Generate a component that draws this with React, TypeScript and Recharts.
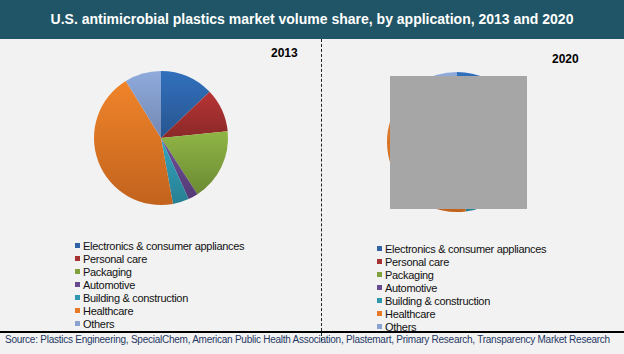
import { PieChart, Pie, Cell } from 'recharts';

const categories = [
  'Electronics & consumer appliances',
  'Personal care',
  'Packaging',
  'Automotive',
  'Building & construction',
  'Healthcare',
  'Others',
];

const share2013 = [12.9, 10.5, 17.4, 2.4, 3.9, 44.0, 8.8];
const share2020 = [14.0, 11.0, 16.0, 2.5, 4.5, 43.0, 9.0];

// top / bottom shade of each slice
const COLORS = [
  ['#3170bd', '#28558f'],
  ['#b83434', '#8a2828'],
  ['#90b545', '#6b8a33'],
  ['#70509a', '#533a75'],
  ['#34a6c0', '#277f93'],
  ['#f0842a', '#c2631d'],
  ['#8eabdc', '#7488b3'],
];
const LEGEND_COLORS = ['#2f63a6', '#a83131', '#7fa23c', '#674a90', '#2f98b0', '#e77825', '#8aa2d0'];

const data2013 = categories.map((name, i) => ({ name, value: share2013[i] }));
const data2020 = categories.map((name, i) => ({ name, value: share2020[i] }));

const font = '"Liberation Sans", Arial, sans-serif';

function Legend({ left, top }: { left: number; top: number }) {
  return (
    <div style={{ position: 'absolute', left, top, fontFamily: font, fontSize: 11, color: '#111', letterSpacing: -0.3 }}>
      {categories.map((c, i) => (
        <div key={c} style={{ display: 'flex', alignItems: 'center', height: 13 }}>
          <div style={{ width: 5, height: 5, background: LEGEND_COLORS[i], marginRight: 3 }} />
          <span>{c}</span>
        </div>
      ))}
    </div>
  );
}

export default function App() {
  return (
    <div style={{ position: 'absolute', left: 0, top: 0, width: 624, height: 354, background: '#f2f2f2', overflow: 'hidden' }}>
      <div
        style={{
          position: 'absolute', left: 0, top: 0, width: 624, height: 39, background: '#1f5566',
          color: '#fff', fontFamily: font, fontWeight: 'bold', fontSize: 14, lineHeight: '39px', textAlign: 'center',
        }}
      >
        U.S. antimicrobial plastics market volume share, by application, 2013 and 2020
      </div>

      <div style={{ position: 'absolute', left: 0, top: 0 }}>
        <PieChart width={624} height={354} margin={{ top: 0, right: 0, bottom: 0, left: 0 }}>
          <defs>
            {COLORS.map((c, i) => (
              <linearGradient key={i} id={`grad${i}`} x1="0" y1="0" x2="0" y2="1">
                <stop offset="0%" stopColor={c[0]} />
                <stop offset="100%" stopColor={c[1]} />
              </linearGradient>
            ))}
          </defs>
          <Pie
            data={data2013}
            dataKey="value"
            nameKey="name"
            cx={161}
            cy={138}
            outerRadius={67}
            startAngle={90}
            endAngle={-270}
            stroke="none"
            isAnimationActive={false}
          >
            {data2013.map((d, i) => (
              <Cell key={d.name} fill={`url(#grad${i})`} />
            ))}
          </Pie>
          <Pie
            data={data2020}
            dataKey="value"
            nameKey="name"
            cx={457}
            cy={142}
            outerRadius={70}
            startAngle={90}
            endAngle={-270}
            stroke="none"
            isAnimationActive={false}
          >
            {data2020.map((d, i) => (
              <Cell key={d.name} fill={`url(#grad${i})`} />
            ))}
          </Pie>
        </PieChart>
      </div>

      {/* grey box covering the 2020 pie */}
      <div style={{ position: 'absolute', left: 390, top: 76, width: 137, height: 133, background: '#a6a6a6' }} />

      <div style={{ position: 'absolute', left: 271, top: 46, fontFamily: font, fontWeight: 'bold', fontSize: 12 }}>2013</div>
      <div style={{ position: 'absolute', left: 552, top: 52, fontFamily: font, fontWeight: 'bold', fontSize: 12 }}>2020</div>

      <div style={{ position: 'absolute', left: 321, top: 39, height: 302, borderLeft: '1px dashed #222' }} />
      <div style={{ position: 'absolute', left: 0, top: 331, width: 624, height: 2, background: '#000' }} />

      <Legend left={75} top={239} />
      <Legend left={377} top={242} />

      <div style={{ position: 'absolute', left: 5, top: 334, fontFamily: font, fontSize: 10, letterSpacing: -0.25, color: '#1f3864' }}>
        Source: Plastics Engineering, SpecialChem, American Public Health Association, Plastemart, Primary Research, Transparency Market Research
      </div>
    </div>
  );
}
